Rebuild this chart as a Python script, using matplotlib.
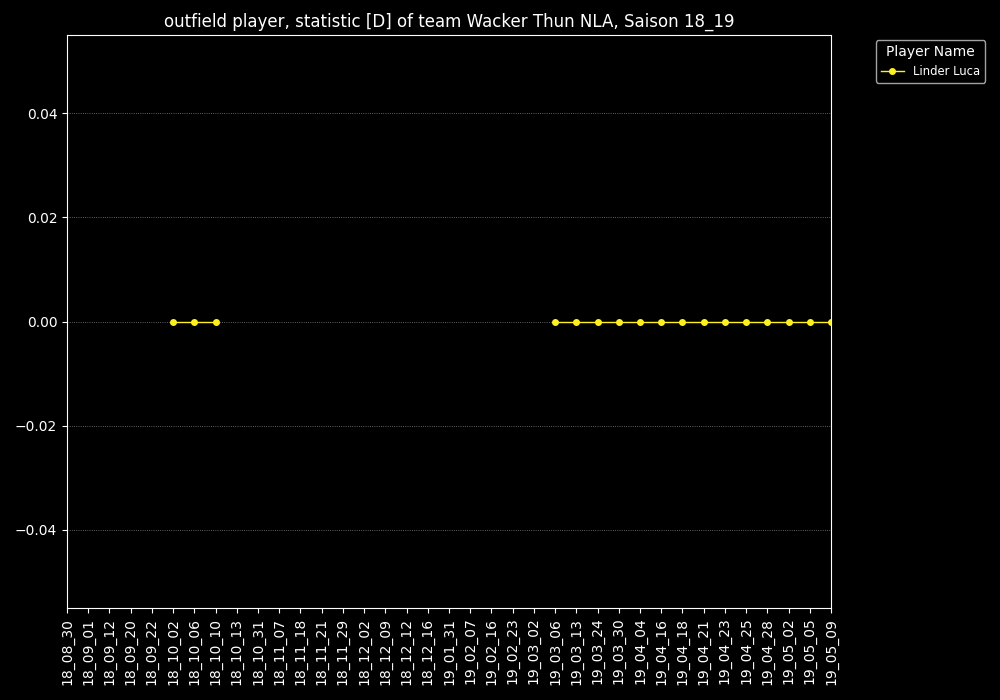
import numpy as np
import matplotlib
matplotlib.use("Agg")
import matplotlib.pyplot as plt

dates = ["18_08_30", "18_09_01", "18_09_12", "18_09_20", "18_09_22", "18_10_02", "18_10_06",
         "18_10_10", "18_10_13", "18_10_31", "18_11_07", "18_11_18", "18_11_21", "18_11_29",
         "18_12_02", "18_12_09", "18_12_12", "18_12_16", "19_01_31", "19_02_07", "19_02_16",
         "19_02_23", "19_03_02", "19_03_06", "19_03_13", "19_03_24", "19_03_30", "19_04_04",
         "19_04_16", "19_04_18", "19_04_21", "19_04_23", "19_04_25", "19_04_28", "19_05_02",
         "19_05_05", "19_05_09"]
nan = np.nan
values = [nan, nan, nan, nan, nan, 0, 0, 0, nan, nan, nan, nan, nan, nan, nan, nan, nan, nan,
          nan, nan, nan, nan, nan, 0, 0, 0, 0, 0, 0, 0, 0, 0, 0, 0, 0, 0, 0]
player = "Linder Luca"

plt.style.use("dark_background")
fig = plt.figure(figsize=(10, 7), dpi=100)
ax = fig.add_axes([0.067, 0.1314, 0.764, 0.8186])
ax.plot(dates, values, color="#FFF01F", marker="o", markersize=4, linewidth=1.0, label=player)
ax.set_xlim(0, len(dates) - 1)
ax.set_ylim(-0.055, 0.055)
ax.set_yticks([-0.04, -0.02, 0.0, 0.02, 0.04])
ax.grid(axis="y", color="gray", linestyle=":", linewidth=0.6)
ax.tick_params(axis="x", rotation=90)
ax.set_title("outfield player, statistic [D] of team Wacker Thun NLA, Saison 18_19")
leg = ax.legend(title="Player Name", loc="upper left", bbox_to_anchor=(1.0515, 1.0005), fontsize="small")
fig.savefig("out.png", dpi=100)
